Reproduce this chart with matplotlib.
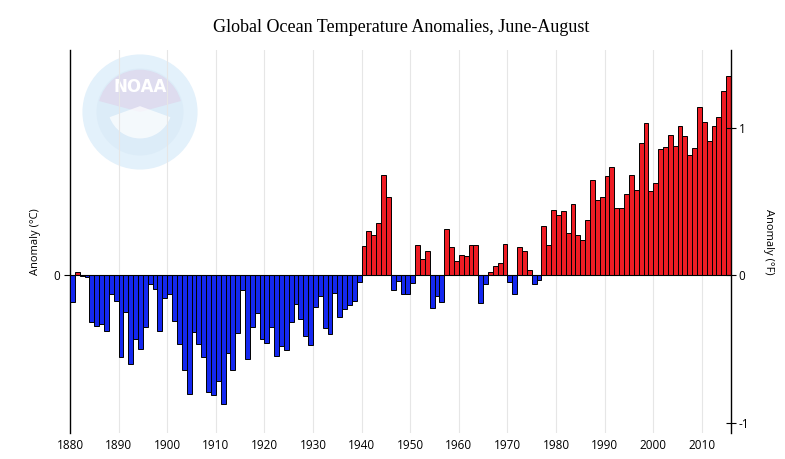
import numpy as np
import matplotlib
matplotlib.use("Agg")
import matplotlib.pyplot as plt
from matplotlib.patches import Circle, Wedge

# June-August global ocean anomalies (deg C), 1880-2015
years = list(range(1880, 2016))
anomaly_c = [
    -0.100, 0.011, -0.002, -0.008, -0.176, -0.191, -0.183, -0.210, -0.072, -0.098,
    -0.308, -0.137, -0.334, -0.241, -0.279, -0.195, -0.031, -0.053, -0.211, -0.084,
    -0.070, -0.172, -0.260, -0.358, -0.447, -0.212, -0.260, -0.308, -0.439, -0.452,
    -0.397, -0.485, -0.294, -0.358, -0.216, -0.056, -0.315, -0.195, -0.141, -0.240,
    -0.256, -0.196, -0.304, -0.266, -0.281, -0.177, -0.107, -0.164, -0.227, -0.261,
    -0.119, -0.079, -0.198, -0.221, -0.065, -0.156, -0.126, -0.110, -0.098, -0.026,
    0.112, 0.168, 0.153, 0.198, 0.379, 0.296, -0.054, -0.023, -0.072, -0.072,
    -0.030, 0.113, 0.060, 0.092, -0.124, -0.079, -0.102, 0.173, 0.105, 0.054,
    0.075, 0.072, 0.113, 0.113, -0.105, -0.034, 0.011, 0.034, 0.045, 0.117,
    -0.026, -0.072, 0.105, 0.090, 0.019, -0.034, -0.018, 0.185, 0.113, 0.245,
    0.226, 0.241, 0.158, 0.267, 0.151, 0.132, 0.207, 0.358, 0.282, 0.294,
    0.373, 0.407, 0.252, 0.252, 0.305, 0.377, 0.320, 0.497, 0.573, 0.316,
    0.347, 0.475, 0.482, 0.527, 0.486, 0.561, 0.524, 0.452, 0.478, 0.633,
    0.576, 0.505, 0.561, 0.595, 0.693, 0.750,
]
decade_ticks = list(range(1880, 2011, 10))
f_ticks = [-1, 0, 1]

title = "Global Ocean Temperature Anomalies, June-August"
tick_font = "Open Sans"

fig = plt.figure(figsize=(7.85, 4.59), dpi=100)

# faint NOAA watermark behind the plot
logo = fig.add_axes([140 / 785 - 0.075, 1 - 112 / 459 - 0.128, 0.15, 0.256])
logo.set_xlim(-1, 1)
logo.set_ylim(-1, 1)
logo.set_aspect("equal")
logo.axis("off")
logo.add_patch(Circle((0, 0), 0.98, facecolor="#e3f1fb", edgecolor="none"))
logo.add_patch(Circle((0, 0), 0.74, facecolor="#dcecf8", edgecolor="none"))
logo.add_patch(Wedge((0, 0), 0.72, 15, 165, facecolor="#dedcef", edgecolor="none"))
logo.add_patch(Wedge((0, 0.1), 0.55, 200, 340, facecolor="white", edgecolor="none", alpha=0.7))
logo.text(0, 0.42, "NOAA", ha="center", va="center", color="white",
          fontsize=12, fontweight="bold", family="DejaVu Sans")

ax = fig.add_axes([70 / 785, 1 - 433 / 459, 661 / 785, 383 / 459])
ax.patch.set_alpha(0)

colors = ["#ee1c24" if v >= 0 else "#1428f0" for v in anomaly_c]
ax.bar(years, anomaly_c, width=1.0, align="edge", color=colors,
       edgecolor="black", linewidth=0.7, zorder=3)

ylim_c = (-0.594, 0.849)
ax.set_xlim(1880, 2016)
ax.set_ylim(*ylim_c)

for yr in decade_ticks[1:]:
    ax.axvline(yr, color="#e6e6e6", linewidth=0.8, zorder=1)
ax.axhline(0, color="black", linewidth=0.8, zorder=4)

ax.spines["top"].set_visible(False)
ax.spines["bottom"].set_visible(False)
ax.spines["right"].set_visible(False)
ax.spines["left"].set_linewidth(1.0)

ax.set_xticks(decade_ticks)
ax.set_xticklabels([str(y) for y in decade_ticks], family=tick_font, fontsize=8.5)
ax.tick_params(axis="x", length=0, pad=4)
ax.set_yticks([0])
ax.set_yticklabels(["0"], family=tick_font, fontsize=8.5)
ax.tick_params(axis="y", length=4, width=0.8, pad=3)
ax.set_ylabel("Anomaly (°C)", family=tick_font, fontsize=8, labelpad=9)

# Fahrenheit axis on the right
ax2 = ax.twinx()
ax2.set_ylim(ylim_c[0] * 1.8, ylim_c[1] * 1.8)
for s in ["top", "bottom", "left"]:
    ax2.spines[s].set_visible(False)
ax2.spines["right"].set_linewidth(1.0)
ax2.set_yticks(f_ticks)
ax2.set_yticklabels([str(t) for t in f_ticks], family=tick_font, fontsize=8.5)
ax2.tick_params(axis="y", direction="inout", length=7, width=0.8, pad=2)
ax2.set_ylabel("Anomaly (°F)", family=tick_font, fontsize=8, rotation=270, labelpad=18)

fig.text(401 / 785, 1 - 27 / 459, title, ha="center", va="center",
         family="Liberation Serif", fontsize=13)

fig.savefig("out.png", dpi=100)
